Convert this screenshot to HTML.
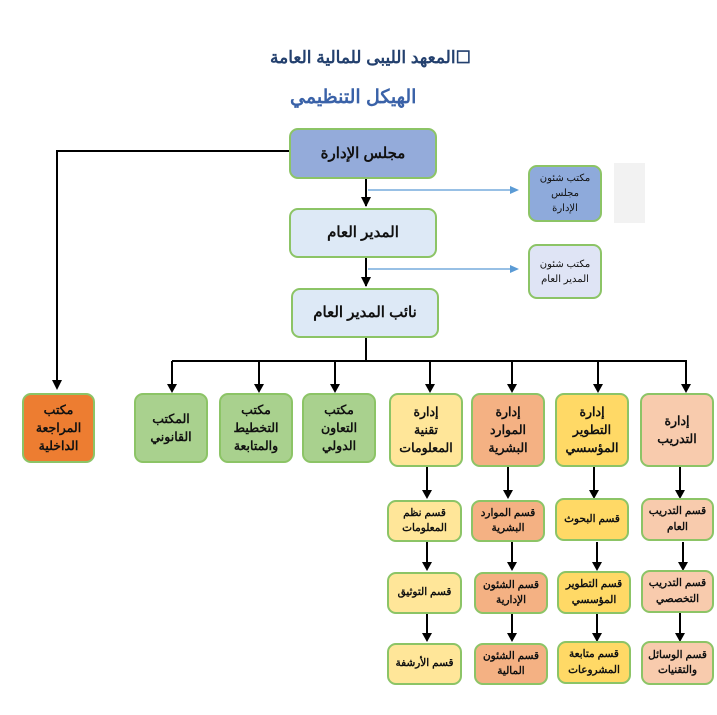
<!DOCTYPE html>
<html><head><meta charset="utf-8"><style>
body{margin:0;width:717px;height:715px;background:#fff;position:relative;overflow:hidden;font-family:"Liberation Sans","Noto Sans CJK SC",sans-serif;}
.b{position:absolute;box-sizing:border-box;border:2px solid #8cc466;border-radius:9px;display:flex;align-items:center;justify-content:center;text-align:center;font-weight:bold;color:#111;direction:rtl;line-height:1.45;}
.t{font-size:12.5px}
.s{font-size:10.5px}
.ttl{position:absolute;font-weight:bold;color:#2f4f80;direction:rtl;white-space:nowrap;}
</style></head><body>
<div class="ttl" style="left:270px;top:48px;font-size:17px;color:#23406e">☐المعهد الليبى للمالية العامة</div>
<div class="ttl" style="left:290px;top:86px;font-size:19px;color:#3a62a8">الهيكل التنظيمي</div>
<div style="position:absolute;left:614px;top:163px;width:31px;height:60px;background:#f2f2f2"></div>
<svg style="position:absolute;left:0;top:0" width="717" height="715">
<defs><marker id="a" markerWidth="8" markerHeight="8" refX="4" refY="7" orient="auto" markerUnits="userSpaceOnUse"><path d="M0,0 L8,0 L4,8 z" fill="#000" transform="rotate(0)"/></marker>
<marker id="bl" markerWidth="10" markerHeight="8" refX="9" refY="4" orient="auto" markerUnits="userSpaceOnUse"><path d="M0,0 L10,4 L0,8 z" fill="#5b9bd5"/></marker></defs>
<g stroke="#000" stroke-width="2" fill="none">
<path d="M289,151 H57 V388"/>
<path d="M366,178 V206" />
<path d="M366,257 V286"/>
<path d="M366,337 V361 M172,361 H687"/>
</g>
<g fill="#000">
<path d="M52,380 L62,380 L57,390z"/>
<path d="M361,197 L371,197 L366,207z"/>
<path d="M361,277 L371,277 L366,287z"/>
</g>
<g stroke="#000" stroke-width="2">
<line x1="172" y1="361" x2="172" y2="386"/><line x1="259" y1="361" x2="259" y2="386"/><line x1="335" y1="361" x2="335" y2="386"/><line x1="430" y1="361" x2="430" y2="386"/><line x1="512" y1="361" x2="512" y2="386"/><line x1="598" y1="361" x2="598" y2="386"/><line x1="686" y1="361" x2="686" y2="386"/>
<line x1="427" y1="467" x2="427" y2="492"/><line x1="508" y1="467" x2="508" y2="492"/><line x1="594" y1="467" x2="594" y2="492"/><line x1="680" y1="467" x2="680" y2="492"/>
<line x1="427" y1="542" x2="427" y2="564"/><line x1="512" y1="542" x2="512" y2="564"/><line x1="597" y1="542" x2="597" y2="564"/><line x1="683" y1="542" x2="683" y2="564"/>
<line x1="427" y1="613" x2="427" y2="635"/><line x1="512" y1="613" x2="512" y2="635"/><line x1="597" y1="613" x2="597" y2="635"/><line x1="680" y1="613" x2="680" y2="635"/>
</g>
<g fill="#000">
<path d="M167,384h10l-5,9z"/><path d="M254,384h10l-5,9z"/><path d="M330,384h10l-5,9z"/><path d="M425,384h10l-5,9z"/><path d="M507,384h10l-5,9z"/><path d="M593,384h10l-5,9z"/><path d="M681,384h10l-5,9z"/>
<path d="M422,490h10l-5,9z"/><path d="M503,490h10l-5,9z"/><path d="M589,490h10l-5,9z"/><path d="M675,490h10l-5,9z"/>
<path d="M422,562h10l-5,9z"/><path d="M507,562h10l-5,9z"/><path d="M592,562h10l-5,9z"/><path d="M678,562h10l-5,9z"/>
<path d="M422,633h10l-5,9z"/><path d="M507,633h10l-5,9z"/><path d="M592,633h10l-5,9z"/><path d="M675,633h10l-5,9z"/>
</g>
<g stroke="#5b9bd5" stroke-width="1.3" fill="#5b9bd5">
<line x1="368" y1="190" x2="512" y2="190"/><path d="M510,186 L519,190 L510,194z" stroke="none"/>
<line x1="368" y1="269" x2="512" y2="269"/><path d="M510,265 L519,269 L510,273z" stroke="none"/>
</g>
</svg>
<div class="b" style="left:289px;top:128px;width:148px;height:51px;background:#94abda;font-size:15px">مجلس الإدارة</div>
<div class="b" style="left:289px;top:208px;width:148px;height:50px;background:#dde9f6;font-size:15px">المدير العام</div>
<div class="b" style="left:291px;top:288px;width:148px;height:50px;background:#dde9f6;font-size:15px">نائب المدير العام</div>
<div class="b s" style="left:528px;top:165px;width:74px;height:57px;background:#8eaadb;font-weight:normal;font-size:10px;line-height:1.5">مكتب شئون<br>مجلس<br>الإدارة</div>
<div class="b s" style="left:528px;top:244px;width:74px;height:55px;background:#dfe4f5;font-weight:normal;font-size:10px;line-height:1.5">مكتب شئون<br>المدير العام</div>

<div class="b t" style="left:22px;top:393px;width:73px;height:70px;background:#ed7d31">مكتب<br>المراجعة<br>الداخلية</div>
<div class="b t" style="left:134px;top:393px;width:74px;height:70px;background:#a9d18e">المكتب<br>القانوني</div>
<div class="b t" style="left:219px;top:393px;width:74px;height:70px;background:#a9d18e">مكتب<br>التخطيط<br>والمتابعة</div>
<div class="b t" style="left:302px;top:393px;width:74px;height:70px;background:#a9d18e">مكتب<br>التعاون<br>الدولي</div>
<div class="b t" style="left:389px;top:393px;width:74px;height:74px;background:#ffe699">إدارة<br>تقنية<br>المعلومات</div>
<div class="b t" style="left:471px;top:393px;width:74px;height:74px;background:#f4b183">إدارة<br>الموارد<br>البشرية</div>
<div class="b t" style="left:555px;top:393px;width:74px;height:74px;background:#ffd966">إدارة<br>التطوير<br>المؤسسي</div>
<div class="b t" style="left:640px;top:393px;width:74px;height:74px;background:#f8cbad">إدارة<br>التدريب</div>

<div class="b s" style="left:387px;top:500px;width:75px;height:42px;background:#ffe699">قسم نظم<br>المعلومات</div>
<div class="b s" style="left:471px;top:500px;width:74px;height:42px;background:#f4b183">قسم الموارد<br>البشرية</div>
<div class="b s" style="left:555px;top:498px;width:74px;height:43px;background:#ffd966">قسم البحوث</div>
<div class="b s" style="left:641px;top:498px;width:73px;height:43px;background:#f8cbad">قسم التدريب<br>العام</div>

<div class="b s" style="left:387px;top:572px;width:75px;height:42px;background:#ffe699">قسم التوثيق</div>
<div class="b s" style="left:474px;top:572px;width:74px;height:42px;background:#f4b183">قسم الشئون<br>الإدارية</div>
<div class="b s" style="left:557px;top:571px;width:74px;height:43px;background:#ffd966">قسم التطوير<br>المؤسسي</div>
<div class="b s" style="left:641px;top:570px;width:73px;height:43px;background:#f8cbad">قسم التدريب<br>التخصصي</div>

<div class="b s" style="left:387px;top:643px;width:75px;height:42px;background:#ffe699">قسم الأرشفة</div>
<div class="b s" style="left:474px;top:643px;width:74px;height:42px;background:#f4b183">قسم الشئون<br>المالية</div>
<div class="b s" style="left:557px;top:641px;width:74px;height:43px;background:#ffd966">قسم متابعة<br>المشروعات</div>
<div class="b s" style="left:641px;top:641px;width:73px;height:44px;background:#f8cbad">قسم الوسائل<br>والتقنيات</div>
</body></html>
